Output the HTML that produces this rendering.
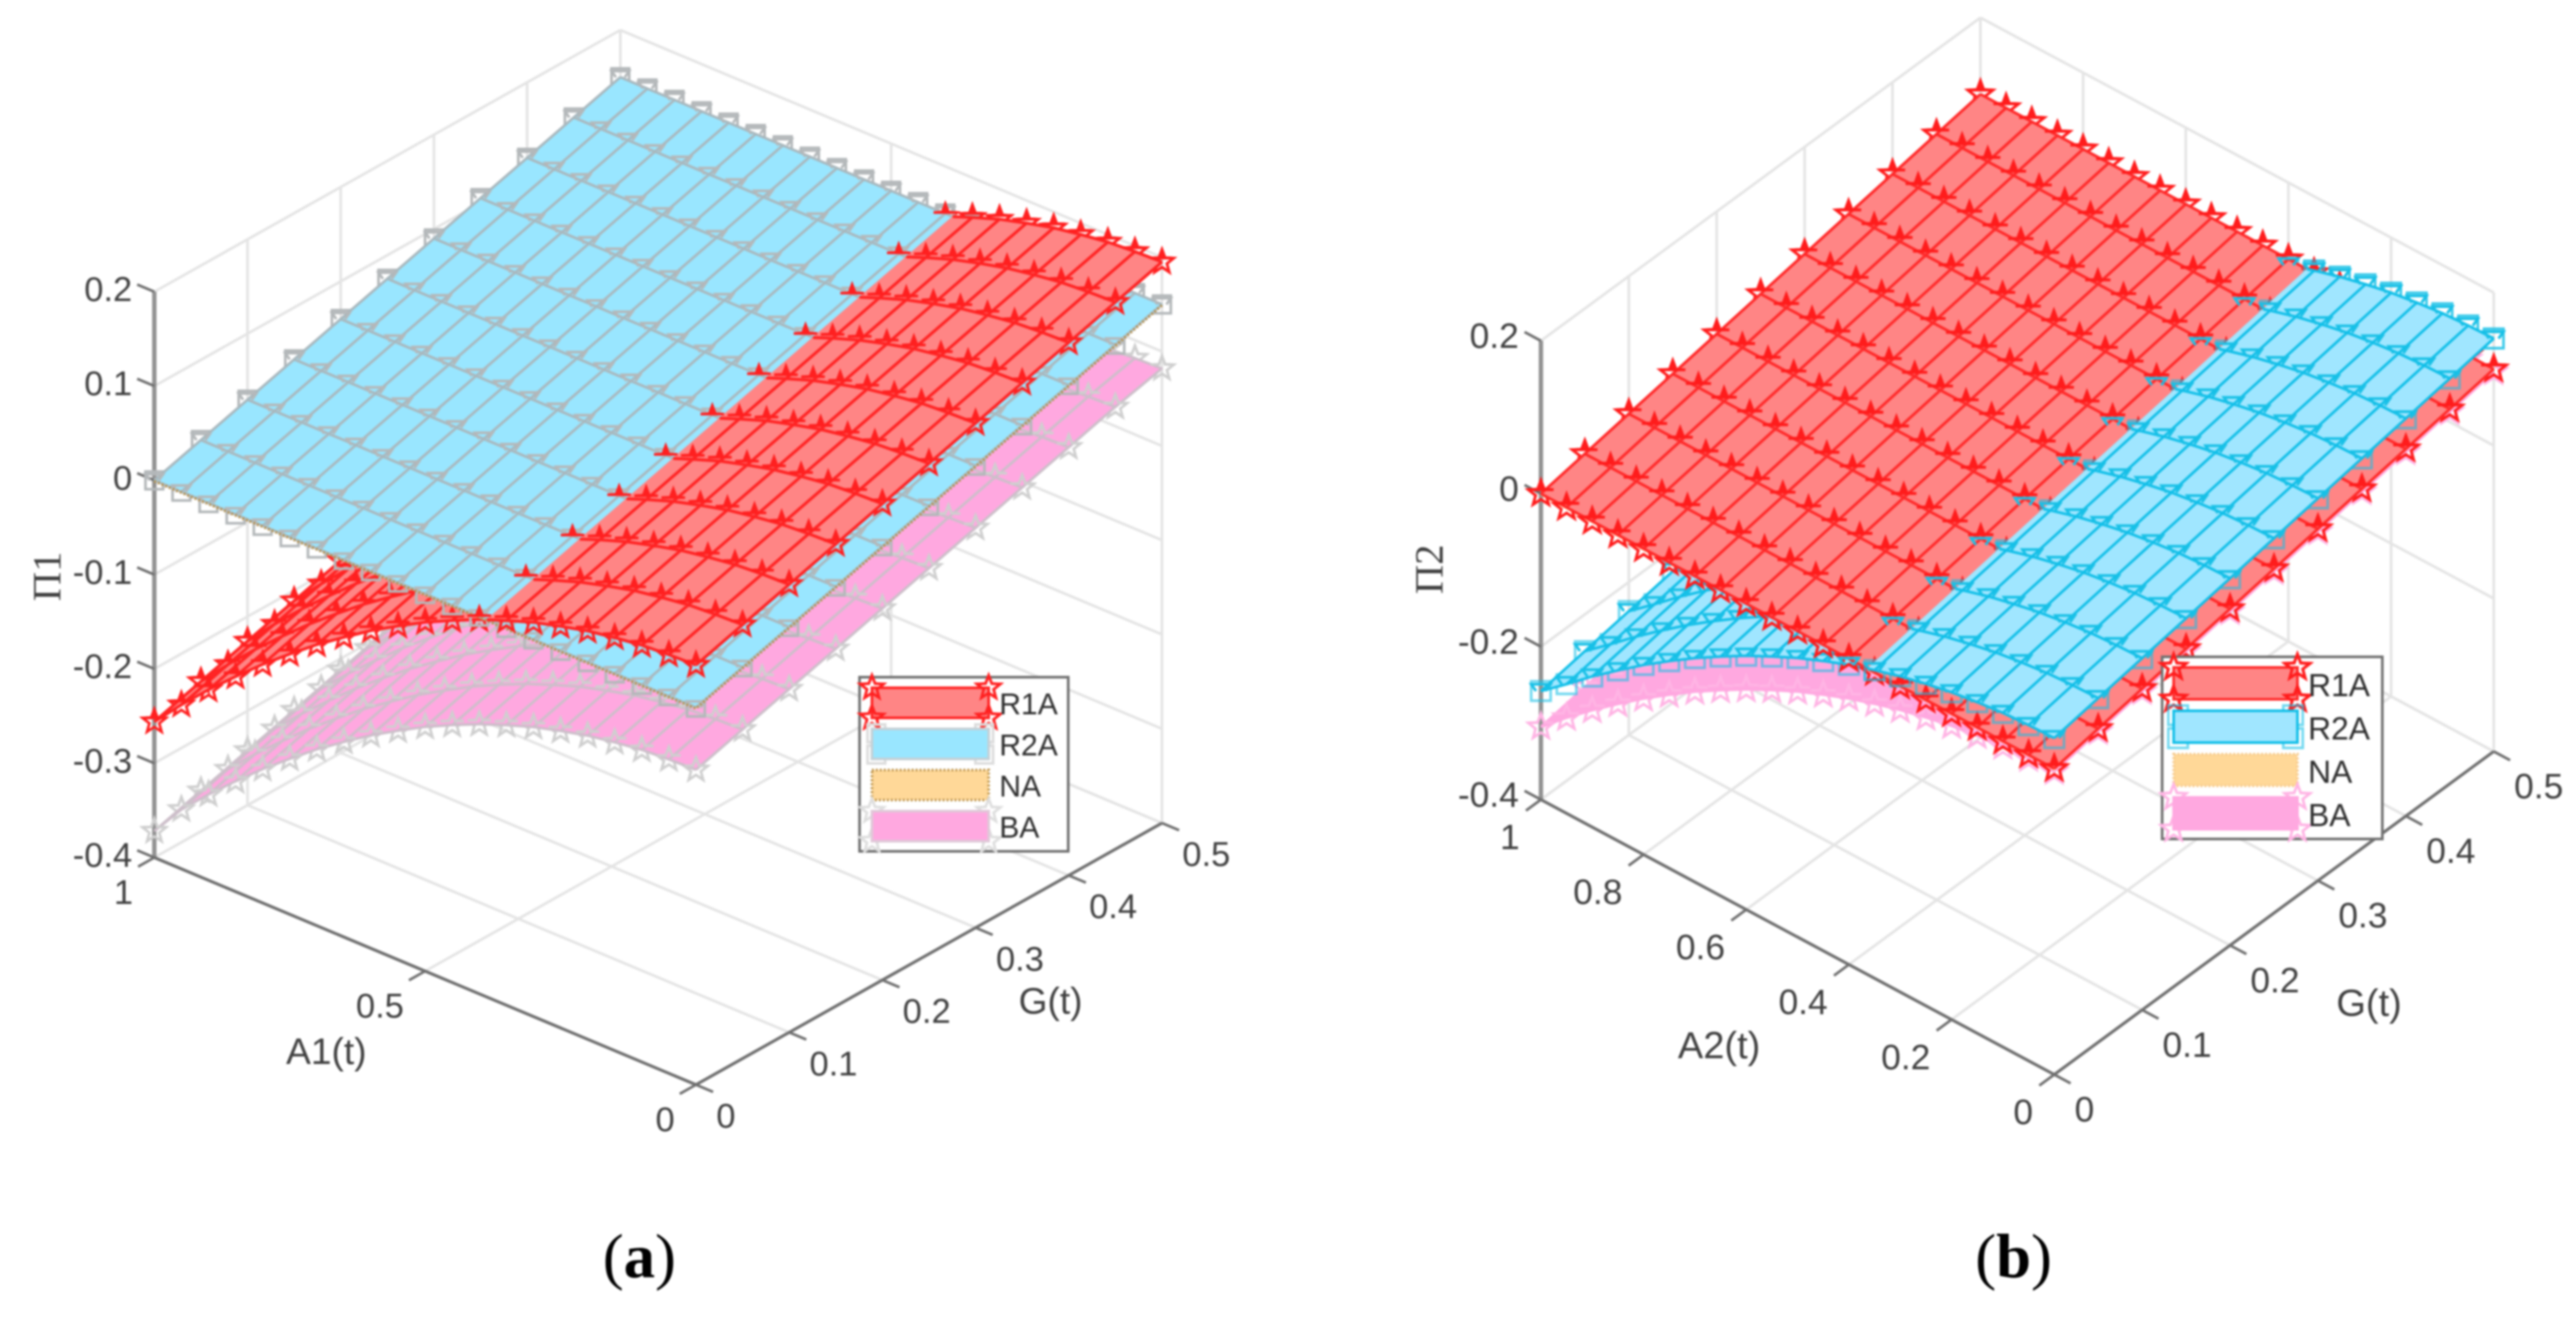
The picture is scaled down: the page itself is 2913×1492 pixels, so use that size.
<!DOCTYPE html>
<html lang="en">
<head>
<meta charset="utf-8">
<title>Surface comparison charts</title>
<style>
html,body{margin:0;padding:0;background:#fff;}
#figure{display:block;filter:blur(1px);}
text{font-family:"Liberation Sans",sans-serif;}
</style>
</head>
<body>
<svg id="figure" width="2913" height="1492" viewBox="0 0 2913 1492" xmlns="http://www.w3.org/2000/svg">
  <rect x="0" y="0" width="2913" height="1492" fill="#ffffff"/>
  <g id="panel-a"></g>
  <g id="panel-b"></g>
  <text x="723" y="1445" text-anchor="middle" font-size="71" fill="#000" style="font-family:'Liberation Serif',serif">(<tspan font-weight="bold">a</tspan>)</text>
  <text x="2277" y="1445" text-anchor="middle" font-size="71" fill="#000" style="font-family:'Liberation Serif',serif">(<tspan font-weight="bold">b</tspan>)</text>
</svg>
<script>
// ---------- shared grid categories ----------
const aCategories = [0,0.05,0.1,0.15,0.2,0.25,0.3,0.35,0.4,0.45,0.5,0.55,0.6,0.65,0.7,0.75,0.8,0.85,0.9,0.95,1];
const gCategories = [0,0.05,0.1,0.15,0.2,0.25,0.3,0.35,0.4,0.45,0.5];
const legendLabels = ['R1A','R2A','NA','BA'];

// ---------- panel (a) values: payoff = byA[i] + byG[j] ----------
const aR1AbyA = [0.045,0.044,0.042,0.038,0.033,0.026,0.018,0.008,-0.003,-0.016,-0.030,-0.046,-0.063,-0.082,-0.102,-0.124,-0.147,-0.172,-0.198,-0.226,-0.256];
const aR1AbyG = [0,0.015,0.03,0.045,0.06,0.075,0.09,0.105,0.12,0.135,0.15];
const aR2AbyA = [0,0,0,0,0,0,0,0,0,0,0,0,0,0,0,0,0,0,0,0,0];
const aR2AbyG = [0,0.015,0.03,0.045,0.06,0.075,0.09,0.105,0.12,0.135,0.15];
const aNAbyA = [-0.001,-0.001,-0.001,-0.001,-0.001,-0.001,-0.001,-0.001,-0.001,-0.001,-0.001,-0.001,-0.001,-0.001,-0.001,-0.001,-0.001,-0.001,-0.001,-0.001,-0.001];
const aNAbyG = [0,0.015,0.03,0.045,0.06,0.075,0.09,0.105,0.12,0.135,0.15];
const aBAbyA = [-0.066,-0.067,-0.069,-0.073,-0.078,-0.085,-0.093,-0.103,-0.114,-0.127,-0.141,-0.157,-0.174,-0.193,-0.213,-0.235,-0.258,-0.283,-0.309,-0.337,-0.372];
const aBAbyG = [0,0.015,0.03,0.045,0.06,0.075,0.09,0.105,0.12,0.135,0.148];
const aZTicks = [-0.4,-0.3,-0.2,-0.1,0,0.1,0.2];
const aZTickLabels = ['-0.4','-0.3','-0.2','-0.1','0','0.1','0.2'];
const aATicks = [0,0.5,1];
const aATickLabels = ['0','0.5','1'];
const aGTicks = [0,0.1,0.2,0.3,0.4,0.5];
const aGTickLabels = ['0','0.1','0.2','0.3','0.4','0.5'];

// ---------- panel (b) values ----------
const bR1AbyA = [0,0,0,0,0,0,0,0,0,0,0,0,0,0,0,0,0,0,0,0,0];
const bR1AbyG = [0,0.01,0.02,0.03,0.04,0.05,0.06,0.07,0.08,0.09,0.1];
const bR2AbyA = [0.04,0.039,0.037,0.033,0.028,0.021,0.013,0.003,-0.008,-0.021,-0.035,-0.051,-0.068,-0.087,-0.107,-0.129,-0.152,-0.177,-0.203,-0.231,-0.258];
const bR2AbyG = [0,0.01,0.02,0.03,0.04,0.05,0.06,0.07,0.08,0.09,0.1];
const bNAbyA = [-0.002,-0.002,-0.002,-0.002,-0.002,-0.002,-0.002,-0.002,-0.002,-0.002,-0.002,-0.002,-0.002,-0.002,-0.002,-0.002,-0.002,-0.002,-0.002,-0.002,-0.002];
const bNAbyG = [0,0.01,0.02,0.03,0.04,0.05,0.06,0.07,0.08,0.09,0.1];
const bBAbyA = [-0.004,-0.005,-0.007,-0.011,-0.016,-0.023,-0.031,-0.041,-0.052,-0.065,-0.079,-0.095,-0.112,-0.131,-0.151,-0.173,-0.196,-0.221,-0.247,-0.275,-0.305];
const bBAbyG = [0,0.01,0.02,0.03,0.04,0.05,0.06,0.07,0.08,0.09,0.1];
const bZTicks = [-0.4,-0.2,0,0.2];
const bZTickLabels = ['-0.4','-0.2','0','0.2'];
const bATicks = [0,0.2,0.4,0.6,0.8,1];
const bATickLabels = ['0','0.2','0.4','0.6','0.8','1'];
const bGTicks = [0,0.1,0.2,0.3,0.4,0.5];
const bGTickLabels = ['0','0.1','0.2','0.3','0.4','0.5'];

const SVGNS = 'http://www.w3.org/2000/svg';
const zMin = -0.4, zMax = 0.2, gMax = 0.5;

function make(tag, attrs, parent, text) {
  const node = document.createElementNS(SVGNS, tag);
  for (const k in attrs) node.setAttribute(k, attrs[k]);
  if (text !== undefined) node.textContent = text;
  parent.appendChild(node);
  return node;
}

function makeProjector(cfg) {
  return function (a, g, z) {
    const x = cfg.front[0] + a * (cfg.left[0] - cfg.front[0]) + (g / gMax) * (cfg.right[0] - cfg.front[0]);
    const y = cfg.front[1] + a * (cfg.left[1] - cfg.front[1]) + (g / gMax) * (cfg.right[1] - cfg.front[1])
      - ((z - zMin) / (zMax - zMin)) * cfg.zHeight;
    return [x, y];
  };
}

function fmt(p) { return p[0].toFixed(1) + ' ' + p[1].toFixed(1); }

function starFull(x, y, R) {
  const r = R * 0.42;
  let d = '';
  for (let k = 0; k < 10; k++) {
    const ang = (-90 + k * 36) * Math.PI / 180;
    const rad = k % 2 === 0 ? R : r;
    d += (k === 0 ? 'M' : 'L') + (x + rad * Math.cos(ang)).toFixed(1) + ' ' + (y + rad * Math.sin(ang)).toFixed(1);
  }
  return d + 'Z';
}
function starHalf(x, y, R) {
  const r = R * 0.42;
  let d = '';
  for (let k = -2; k <= 2; k++) {
    const ang = (-90 + k * 36) * Math.PI / 180;
    const rad = k % 2 === 0 ? R : r;
    d += (k === -2 ? 'M' : 'L') + (x + rad * Math.cos(ang)).toFixed(1) + ' ' + (y + rad * Math.sin(ang)).toFixed(1);
  }
  return d;
}
function squareFull(x, y, R) {
  return 'M' + (x - R) + ' ' + (y - R) + 'H' + (x + R) + 'V' + (y + R) + 'H' + (x - R) + 'Z';
}
function squareHalf(x, y, R) {
  return 'M' + (x - R * 0.5) + ' ' + y + 'L' + (x - R) + ' ' + (y - R * 0.7) + 'H' + (x + R) + 'L' + (x + R * 0.5) + ' ' + y;
}

function surfaceZ(s, ai, gi) { return s.byA[ai] + s.byG[gi]; }

// Point on surface at fractional A (between grid values), read from the arrays by linear lookup.
function zAtA(s, a, gi) {
  for (let i = 0; i < aCategories.length - 1; i++) {
    if (a <= aCategories[i + 1]) {
      const t = (a - aCategories[i]) / (aCategories[i + 1] - aCategories[i]);
      return s.byA[i] + t * (s.byA[i + 1] - s.byA[i]) + s.byG[gi];
    }
  }
  return s.byA[s.byA.length - 1] + s.byG[gi];
}

function crossingA(over, under) {
  for (let i = 0; i < aCategories.length - 1; i++) {
    const d0 = over.byA[i] - under.byA[i];
    const d1 = over.byA[i + 1] - under.byA[i + 1];
    if (d0 >= 0 && d1 < 0) return aCategories[i] + (d0 / (d0 - d1)) * (aCategories[i + 1] - aCategories[i]);
  }
  return 1;
}

function drawSurface(parent, proj, s, aEnd, peekExtra) {
  const layer = make('g', {}, parent);
  
  

  const cols = [];
  aCategories.forEach(function (a, i) { if (a <= aEnd + 1e-9) cols.push(i); });
  const rows = gCategories.map(function (g, j) { return j; });
  const markerFull = s.marker === 'star' ? starFull : squareFull;
  const markerHalf = s.marker === 'star' ? starHalf : squareHalf;

  // markers behind the fill: only their outside-the-surface part stays visible
  if (s.marker !== 'none') {
    let d = '';
    cols.forEach(function (i) {
      rows.forEach(function (j) {
        const p = proj(aCategories[i], gCategories[j], surfaceZ(s, i, j));
        d += markerFull(p[0], p[1], s.size);
      });
    });
    const back = make('path', { d: d, fill: 'none', stroke: s.markerColor, 'stroke-width': s.markerWidth, 'stroke-opacity': s.markerOpacity, 'stroke-linejoin': 'miter' }, layer);
    
    
  }

  // fill
  let outline = [];
  aCategories.forEach(function (a, i) {
    if (a <= aEnd + 1e-9) outline.push(proj(a, gCategories[0], surfaceZ(s, i, 0)));
  });
  gCategories.forEach(function (g, j) { outline.push(proj(aEnd, g, zAtA(s, aEnd, j))); });
  for (let k = cols.length - 1; k >= 0; k--) {
    const i = cols[k];
    outline.push(proj(aCategories[i], gCategories[rows.length - 1], surfaceZ(s, i, rows.length - 1)));
  }
  rows.slice().reverse().forEach(function (j) { outline.push(proj(aCategories[0], gCategories[j], surfaceZ(s, 0, j))); });
  const poly = make('path', { d: 'M' + outline.map(fmt).join('L') + 'Z', fill: s.fill, stroke: s.fill, 'stroke-width': 1 }, layer);
  
  

  // mesh lines
  if (s.lineColor) {
    let m = '';
    rows.forEach(function (j) {
      const pts = cols.map(function (i) { return proj(aCategories[i], gCategories[j], surfaceZ(s, i, j)); });
      if (aEnd < 1) pts.push(proj(aEnd, gCategories[j], zAtA(s, aEnd, j)));
      m += 'M' + pts.map(fmt).join('L');
    });
    cols.forEach(function (i) {
      const pts = rows.map(function (j) { return proj(aCategories[i], gCategories[j], surfaceZ(s, i, j)); });
      m += 'M' + pts.map(fmt).join('L');
    });
    const mesh = make('path', { d: m, fill: 'none', stroke: s.lineColor, 'stroke-width': s.lineWidth, 'stroke-linejoin': 'round' }, layer);
    
    
  }

  // upper halves of markers on top of the fill
  if (s.marker !== 'none') {
    let d = '';
    const halfCols = cols.slice();
    if (peekExtra && cols[cols.length - 1] + 1 < aCategories.length) halfCols.push(cols[cols.length - 1] + 1);
    halfCols.forEach(function (i) {
      rows.forEach(function (j) {
        const p = proj(aCategories[i], gCategories[j], surfaceZ(s, i, j));
        d += markerHalf(p[0], p[1], s.size) + (s.halfFill ? 'Z' : '');
      });
    });
    const front = make('path', { d: d, fill: s.halfFill ? s.markerColor : 'none', stroke: s.markerColor, 'stroke-width': s.markerWidth, 'stroke-linejoin': 'miter' }, layer);
    
    
  }
}

function drawDottedEdge(parent, proj, s) {
  let pts = aCategories.map(function (a, i) { return proj(a, gCategories[0], surfaceZ(s, i, 0)); }).reverse();
  gCategories.forEach(function (g, j) { pts.push(proj(aCategories[0], g, surfaceZ(s, 0, j))); });
  const edge = make('path', { d: 'M' + pts.map(fmt).join('L'), fill: 'none', stroke: s.edgeColor, 'stroke-width': 3, 'stroke-dasharray': '2 2.5' }, parent);
  
  
}

function drawAxes(parent, cfg, proj, zTicks, zLabels, aTicks, aLabels, gTicks, gLabels) {
  const gridColor = '#e4e4e4', axisColor = '#6f6f6f';
  const grid = make('g', { fill: 'none', stroke: gridColor, 'stroke-width': 3 }, parent);
  
  
  function gridLine(p, q) {
    const ln = make('line', { x1: p[0], y1: p[1], x2: q[0], y2: q[1] }, grid);
    
    
  }
  zTicks.forEach(function (z) {
    gridLine(proj(1, 0, z), proj(1, gMax, z));
    gridLine(proj(1, gMax, z), proj(0, gMax, z));
  });
  aTicks.forEach(function (a) {
    gridLine(proj(a, 0, zMin), proj(a, gMax, zMin));
    gridLine(proj(a, gMax, zMin), proj(a, gMax, zMax));
  });
  gTicks.forEach(function (g) {
    gridLine(proj(0, g, zMin), proj(1, g, zMin));
    gridLine(proj(1, g, zMin), proj(1, g, zMax));
  });

  const axes = make('g', { fill: 'none', stroke: axisColor, 'stroke-width': 3 }, parent);
  
  
  function axisLine(p, q, name, w, col) {
    const ln = make('line', { x1: p[0], y1: p[1], x2: q[0], y2: q[1], 'stroke-width': w }, axes);
    if (col) ln.setAttribute('stroke', col);
    
    
  }
  axisLine(proj(1, 0, zMin), proj(1, 0, zMax), 'z-axis-line', 5, '#939393');
  axisLine(proj(1, 0, zMin), proj(0, 0, zMin), 'a-axis-line', 3.4);
  axisLine(proj(0, 0, zMin), proj(0, gMax, zMin), 'g-axis-line', 3.4);

  const fa = [cfg.left[0] - cfg.front[0], cfg.left[1] - cfg.front[1]];
  const fg = [cfg.right[0] - cfg.front[0], cfg.right[1] - cfg.front[1]];
  const la = Math.hypot(fa[0], fa[1]), lg = Math.hypot(fg[0], fg[1]);
  const tickLen = 21;
  function tick(p, dx, dy, name) {
    axisLine(p, [p[0] + dx * tickLen, p[1] + dy * tickLen], name, 3);
  }
  const labels = make('g', { fill: '#404040', 'font-size': cfg.tickFont }, parent);
  
  

  zTicks.forEach(function (z, i) {
    const p = proj(1, 0, z);
    tick(p, fa[0] / la, fa[1] / la, 'z-tick');
    const t = make('text', { x: p[0] - 25, y: p[1] + cfg.zLabelDy, 'text-anchor': 'end', 'dominant-baseline': 'central' }, labels, zLabels[i]);
    
    
  });
  aTicks.forEach(function (a, i) {
    const p = proj(a, 0, zMin);
    tick(p, -fg[0] / lg, -fg[1] / lg, 'a-tick');
    const t = make('text', { x: p[0] - 24, y: p[1] + cfg.aLabelDy, 'text-anchor': 'end', 'dominant-baseline': 'central' }, labels, aLabels[i]);
    
    
  });
  gTicks.forEach(function (g, i) {
    const p = proj(0, g, zMin);
    tick(p, -fa[0] / la, -fa[1] / la, 'g-tick');
    const t = make('text', { x: p[0] + 23, y: p[1] + cfg.gLabelDy, 'text-anchor': 'start', 'dominant-baseline': 'central' }, labels, gLabels[i]);
    
    
  });

  const xTitle = make('text', { x: cfg.aTitle[0], y: cfg.aTitle[1], 'text-anchor': 'middle', 'dominant-baseline': 'central', 'font-size': cfg.titleFont, fill: '#404040' }, parent, cfg.aTitleText);
  
  
  const yTitle = make('text', { x: cfg.gTitle[0], y: cfg.gTitle[1], 'text-anchor': 'middle', 'dominant-baseline': 'central', 'font-size': cfg.titleFont, fill: '#404040' }, parent, 'G(t)');
  
  
  const zTitle = make('text', { x: 0, y: 0, transform: 'translate(' + cfg.zTitle[0] + ' ' + cfg.zTitle[1] + ') rotate(-90)', 'text-anchor': 'middle', 'dominant-baseline': 'central', 'font-size': cfg.zTitleFont, fill: '#404040', style: "font-family:'Liberation Serif',serif" }, parent, cfg.zTitleText);
  
  
}

function drawLegend(parent, cfg, surfaces) {
  const L = cfg.legend;
  const box = make('g', {}, parent);
  
  
  const frame = make('rect', { x: L.x, y: L.y, width: L.w, height: L.h, fill: '#fff', stroke: '#707070', 'stroke-width': 3 }, box);
  
  
  legendLabels.forEach(function (label, i) {
    const s = surfaces[i];
    const top = L.swatchTop + i * L.step;
    const entry = make('g', {}, box);
    
    
    if (s.marker !== 'none') {
      const draw = s.marker === 'star' ? starFull : squareFull;
      const inset = s.marker === 'star' ? 0 : 5;
      let d = '';
      [L.swatchX + inset, L.swatchX + L.swatchW - inset].forEach(function (x) {
        [top + inset, top + L.swatchH - inset].forEach(function (y) { d += draw(x, y, s.size); });
      });
      const mk = make('path', { d: d, fill: 'none', stroke: s.legendMarker || s.markerColor, 'stroke-width': s.markerWidth, 'stroke-opacity': s.markerOpacity }, entry);
      
      
    }
    const sw = make('rect', { x: L.swatchX, y: top, width: L.swatchW, height: L.swatchH, fill: s.fill, stroke: s.edgeColor || s.legendLine || s.lineColor || s.fill, 'stroke-width': 3, 'stroke-dasharray': s.edgeColor ? '2 2.5' : 'none' }, entry);
    
    
    if (s.marker === 'star' && s.name.indexOf('r1a') === 0) {
      let tops = '';
      [L.swatchX, L.swatchX + L.swatchW].forEach(function (x) {
        [top, top + L.swatchH].forEach(function (y) { tops += starFull(x, y, s.size); });
      });
      const mk2 = make('path', { d: tops, fill: 'none', stroke: s.markerColor, 'stroke-width': s.markerWidth }, entry);
      
      
    }
    const tx = make('text', { x: L.textX, y: top + L.swatchH / 2 + 2, 'dominant-baseline': 'central', 'font-size': L.font, fill: '#2e2e2e' }, entry, label);
    
    
  });
}

// ---------- panel (a) ----------
(function () {
  const root = document.getElementById('panel-a');
  const cfg = {
    left: [174.5, 970], front: [787, 1227], right: [1314, 931], zHeight: 640,
    tickFont: 39, titleFont: 42, zTitleFont: 46, zLabelDy: -2, aLabelDy: 40, gLabelDy: 36,
    aTitle: [369, 1189], gTitle: [1188, 1132], zTitle: [53, 652], aTitleText: 'A1(t)', zTitleText: 'Π1',
    legend: { x: 972, y: 766, w: 236, h: 197, swatchX: 986, swatchTop: 778, swatchW: 132, swatchH: 34, step: 46.5, textX: 1130, font: 34 }
  };
  const proj = makeProjector(cfg);
  const R1A = { name: 'r1a-a', byA: aR1AbyA, byG: aR1AbyG, fill: '#ff8585', lineColor: '#ff2424', lineWidth: 3.4, marker: 'star', size: 14, markerColor: '#ff2020', markerWidth: 3, markerOpacity: 1, halfFill: true };
  const R2A = { name: 'r2a-a', byA: aR2AbyA, byG: aR2AbyG, fill: '#99e6ff', lineColor: '#a9b8be', lineWidth: 3, marker: 'square', size: 10, markerColor: '#b4b8ba', markerWidth: 3, markerOpacity: 1, legendMarker: '#dcdcdc', legendLine: '#c4d0d6' };
  const NA = { name: 'na-a', byA: aNAbyA, byG: aNAbyG, fill: '#ffd898', lineColor: null, lineWidth: 0, marker: 'none', edgeColor: '#b88f45' };
  const BA = { name: 'ba-a', byA: aBAbyA, byG: aBAbyG, fill: '#ffa8e0', lineColor: '#cdbfca', lineWidth: 3, marker: 'star', size: 14, markerColor: '#cfcfcf', markerWidth: 3, markerOpacity: 1, legendMarker: '#dedede', legendLine: '#e0c8d8' };
  drawAxes(root, cfg, proj, aZTicks, aZTickLabels, aATicks, aATickLabels, aGTicks, aGTickLabels);
  drawSurface(root, proj, BA, 1, false);
  drawSurface(root, proj, R1A, 1, false);
  drawSurface(root, proj, NA, 1, false);
  drawSurface(root, proj, R2A, 1, false);
  drawDottedEdge(root, proj, NA);
  drawSurface(root, proj, R1A, crossingA(R1A, R2A), true);
  drawLegend(root, cfg, [R1A, R2A, NA, BA]);
})();

// ---------- panel (b) ----------
(function () {
  const root = document.getElementById('panel-b');
  const cfg = {
    left: [1742.5, 904.5], front: [2323, 1215.5], right: [2820, 850], zHeight: 519,
    tickFont: 40, titleFont: 43, zTitleFont: 46, zLabelDy: -5, aLabelDy: 43, gLabelDy: 40,
    aTitle: [1944, 1183], gTitle: [2679, 1135], zTitle: [1616, 644], aTitleText: 'A2(t)', zTitleText: 'Π2',
    legend: { x: 2445, y: 743, w: 249, h: 206, swatchX: 2458, swatchTop: 755, swatchW: 140, swatchH: 36, step: 49, textX: 2610, font: 36 }
  };
  const proj = makeProjector(cfg);
  const R1A = { name: 'r1a-b', byA: bR1AbyA, byG: bR1AbyG, fill: '#ff8585', lineColor: '#ff2a2a', lineWidth: 3.2, marker: 'star', size: 15, markerColor: '#ff1c1c', markerWidth: 3.2, markerOpacity: 1, halfFill: true };
  const R2A = { name: 'r2a-b', byA: bR2AbyA, byG: bR2AbyG, fill: '#a0e6ff', lineColor: '#12bfe8', lineWidth: 3, marker: 'square', size: 11, markerColor: '#18c0e6', markerWidth: 3, markerOpacity: 0.6 };
  const NA = { name: 'na-b', byA: bNAbyA, byG: bNAbyG, fill: '#ffd898', lineColor: null, lineWidth: 0, marker: 'none', edgeColor: '#f5c98a' };
  const BA = { name: 'ba-b', byA: bBAbyA, byG: bBAbyG, fill: '#ffa8e0', lineColor: '#ffa8e0', lineWidth: 3, marker: 'star', size: 15, markerColor: '#ffb4e4', markerWidth: 3, markerOpacity: 1 };
  drawAxes(root, cfg, proj, bZTicks, bZTickLabels, bATicks, bATickLabels, bGTicks, bGTickLabels);
  drawSurface(root, proj, BA, 1, false);
  drawSurface(root, proj, NA, 1, false);
  drawSurface(root, proj, R2A, 1, false);
  drawSurface(root, proj, R1A, 1, false);
  drawSurface(root, proj, R2A, crossingA(R2A, R1A), true);
  drawLegend(root, cfg, [R1A, R2A, NA, BA]);
})();
</script>
</body>
</html>
